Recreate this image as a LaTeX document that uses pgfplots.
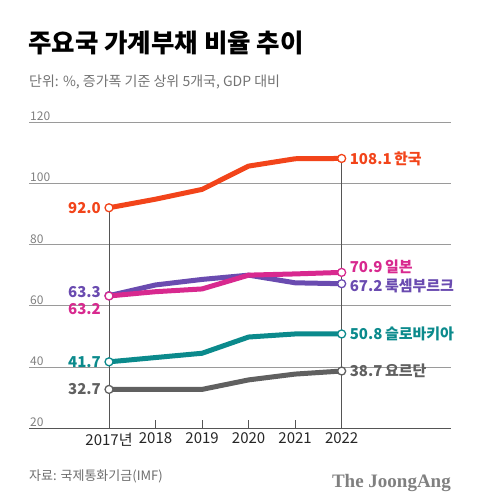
\documentclass[border=0pt]{standalone}
\usepackage{fontspec}
\setmainfont{Noto Sans CJK KR}
\newfontfamily\titlefont{Noto Sans CJK KR Black}
\newfontfamily\serifjoong{Liberation Serif}
\usepackage{pgfplots}
\pgfplotsset{compat=1.18}
\definecolor{kor}{HTML}{F2441A}
\definecolor{jpn}{HTML}{D8298F}
\definecolor{lux}{HTML}{6A4BB0}
\definecolor{svk}{HTML}{0B8A8C}
\definecolor{jor}{HTML}{606060}
\definecolor{gridc}{HTML}{9A9A9A}
\definecolor{tickc}{HTML}{808080}
\definecolor{vline}{HTML}{555555}
\tikzset{lab/.style={inner sep=0pt, font=\fontsize{15}{15}\selectfont\bfseries}}
\begin{document}
\begin{tikzpicture}[x=1pt,y=1pt]
\path[use as bounding box] (0,0) rectangle (480,501);
\node[anchor=west, inner sep=0pt, font=\titlefont\fontsize{25.5}{25.5}\selectfont] at (28,458) {주요국 가계부채 비율 추이};
\node[anchor=west, inner sep=0pt, text=tickc!90!black, font=\fontsize{14}{14}\selectfont] at (29,418.5) {단위: \%, 증가폭 기준 상위 5개국, GDP 대비};
\begin{axis}[
  at={(29pt,72.7pt)}, anchor=south west,
  scale only axis, width=422pt, height=306.3pt,
  xmin=2015.28, xmax=2024.35, ymin=20, ymax=120,
  axis x line*=bottom, axis y line*=left,
  y axis line style={draw=none},
  x axis line style={vline, line width=1pt, -},
  ytick={40,60,80,100,120}, yticklabels={},
  ytick style={draw=none},
  ymajorgrids, grid style={gridc, line width=0.8pt},
  xtick={2017,2018,2019,2020,2021,2022},
  xticklabels={2017년,2018,2019,2020,2021,2022},
  tick align=inside, major tick length=8pt,
  xtick style={vline, line width=1pt},
  xticklabel style={font=\fontsize{15}{15}\selectfont, text=black!85, yshift=-1pt},
  clip=false,
]
% vertical reference lines
\addplot[vline, line width=1pt] coordinates {(2017,20) (2017,92.0)};
\addplot[vline, line width=1pt] coordinates {(2022,20) (2022,108.1)};
% series
\addplot[jor, line width=5pt, line join=round] coordinates {(2017,32.7) (2018,32.7) (2019,32.7) (2020,35.8) (2021,37.7) (2022,38.7)};
\addplot[svk, line width=5pt, line join=round] coordinates {(2017,41.7) (2018,43.1) (2019,44.5) (2020,49.8) (2021,50.8) (2022,50.8)};
\addplot[lux, line width=5pt, line join=round] coordinates {(2017,63.3) (2018,66.8) (2019,68.6) (2020,70.0) (2021,67.5) (2022,67.2)};
\addplot[jpn, line width=5pt, line join=round] coordinates {(2017,63.2) (2018,64.6) (2019,65.5) (2020,70.0) (2021,70.4) (2022,70.9)};
\addplot[kor, line width=5pt, line join=round] coordinates {(2017,92.0) (2018,94.8) (2019,98.0) (2020,105.6) (2021,108.0) (2022,108.1)};
% end markers
\addplot[only marks, mark=*, mark size=4pt, mark options={fill=white, draw=jor, line width=1.3pt}] coordinates {(2017,32.7) (2022,38.7)};
\addplot[only marks, mark=*, mark size=4pt, mark options={fill=white, draw=svk, line width=1.3pt}] coordinates {(2017,41.7) (2022,50.8)};
\addplot[only marks, mark=*, mark size=4pt, mark options={fill=white, draw=lux, line width=1.3pt}] coordinates {(2017,63.3) (2022,67.2)};
\addplot[only marks, mark=*, mark size=4pt, mark options={fill=white, draw=jpn, line width=1.3pt}] coordinates {(2017,63.2) (2022,70.9)};
\addplot[only marks, mark=*, mark size=4pt, mark options={fill=white, draw=kor, line width=1.3pt}] coordinates {(2017,92.0) (2022,108.1)};
% y tick labels
\pgfplotsinvokeforeach{20,40,60,80,100,120}{
  \node[anchor=south west, inner sep=1pt, text=tickc, font=\fontsize{12}{12}\selectfont] at (axis cs:2015.28,#1) {#1};
}
% labels
\node[lab, anchor=west, text=kor, xshift=8pt] at (axis cs:2022,108.1) {108.1\,한국};
\node[lab, anchor=west, text=jpn, xshift=8pt, yshift=6pt] at (axis cs:2022,70.9) {70.9\,일본};
\node[lab, anchor=west, text=lux, xshift=8pt, yshift=-2pt] at (axis cs:2022,67.2) {67.2\,룩셈부르크};
\node[lab, anchor=west, text=svk, xshift=8pt] at (axis cs:2022,50.8) {50.8\,슬로바키아};
\node[lab, anchor=west, text=jor, xshift=8pt] at (axis cs:2022,38.7) {38.7\,요르단};
\node[lab, anchor=east, text=kor, xshift=-8pt] at (axis cs:2017,92.0) {92.0};
\node[lab, anchor=east, text=lux, xshift=-8pt, yshift=4pt] at (axis cs:2017,63.3) {63.3};
\node[lab, anchor=east, text=jpn, xshift=-8pt, yshift=-13pt] at (axis cs:2017,63.2) {63.2};
\node[lab, anchor=east, text=svk, xshift=-8pt] at (axis cs:2017,41.7) {41.7};
\node[lab, anchor=east, text=jor, xshift=-8pt] at (axis cs:2017,32.7) {32.7};
\end{axis}
\node[anchor=west, inner sep=0pt, text=tickc!85!black, font=\fontsize{13}{13}\selectfont] at (29,25) {자료: 국제통화기금(IMF)};
\node[anchor=base east, inner sep=0pt, text=tickc, font=\serifjoong\fontsize{19}{19}\selectfont\bfseries] at (451,13) {The JoongAng};
\end{tikzpicture}
\end{document}
